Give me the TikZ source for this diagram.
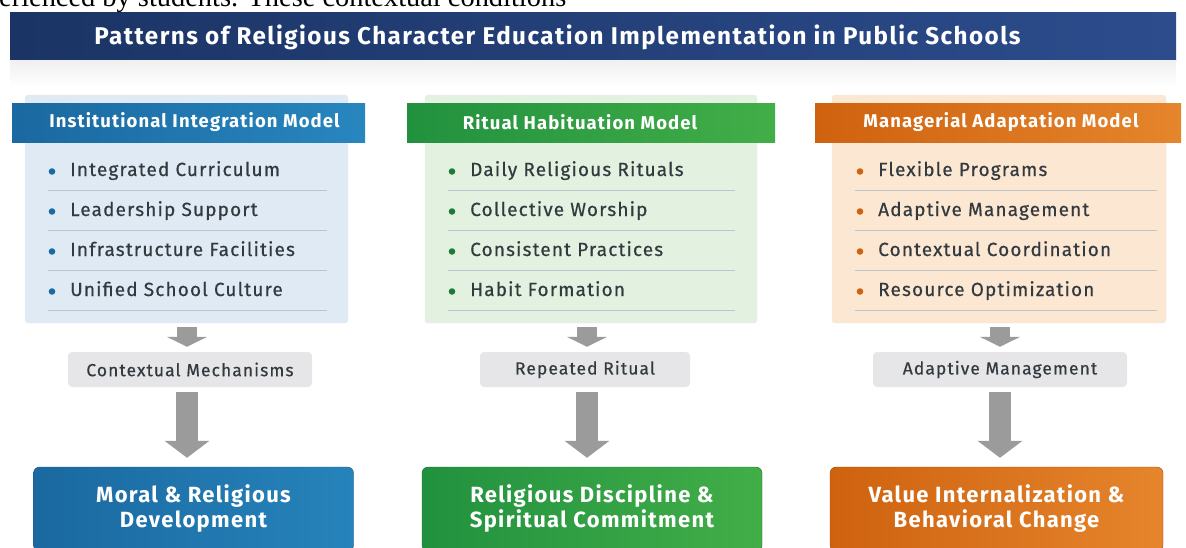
\documentclass[tikz,border=0pt]{standalone}
\usepackage{fontspec}
\setmainfont{Fira Sans}[LetterSpace=6]
\newfontfamily\medio{Fira Sans}[LetterSpace=6, FakeBold=0.5]
\newfontfamily\serifont{Liberation Serif}
\usetikzlibrary{arrows.meta}

\definecolor{tituloA}{HTML}{1B3465}
\definecolor{tituloB}{HTML}{2C4C8C}
\definecolor{azulA}{HTML}{1A69A0}
\definecolor{azulB}{HTML}{2886BE}
\definecolor{azulclaro}{HTML}{DFEAF4}
\definecolor{verdeA}{HTML}{22913F}
\definecolor{verdeB}{HTML}{42AE48}
\definecolor{verdeclaro}{HTML}{E3F1E0}
\definecolor{naranjaA}{HTML}{CF620F}
\definecolor{naranjaB}{HTML}{E5852C}
\definecolor{naranjaclaro}{HTML}{FCE7D3}
\definecolor{grisclaro}{HTML}{E6E6E8}
\definecolor{flecha}{HTML}{9B9B9B}
\definecolor{texto}{HTML}{333A3F}
\definecolor{linea}{HTML}{BCC5CC}

\begin{document}
\begin{tikzpicture}[x=1pt,y=-1pt,
    panel/.style={draw=black!8, rounded corners=3pt, minimum height=228pt},
    cabecera/.style={minimum height=39pt, text=white, font=\bfseries\fontsize{18.5}{22}\selectfont},
    item/.style={anchor=base west, inner sep=0pt, text=texto, font=\medio\fontsize{19}{22}\selectfont},
    separador/.style={draw=linea, line width=0.8pt},
    mecanismo/.style={fill=grisclaro, rounded corners=4pt, minimum height=35pt, text=texto, font=\medio\fontsize{17.5}{20}\selectfont},
    resultado/.style={rounded corners=6pt, minimum width=320pt, minimum height=84pt, align=center, text=white, font=\bfseries\fontsize{22}{25}\selectfont},
    flechita/.style={draw=flecha, line width=20pt, -{Triangle[width=40pt,length=10pt]}, shorten <=4pt, shorten >=5pt},
    flechota/.style={draw=flecha, line width=22pt, -{Triangle[width=44pt,length=17pt]}, shorten <=5pt, shorten >=9pt}]
    \useasboundingbox (0,0) rectangle (1186,547);

    % Texto del documento (recortado)
    \node[anchor=base west, inner sep=0pt, font=\serifont\fontsize{28.4}{28}\selectfont] (previo) at (-1,6.5) {erienced by students. These contextual conditions};

    % Barra del titulo
    \node[left color=tituloA, right color=tituloB, minimum width=1166pt, minimum height=48pt] (barra) at (593,36) {};
    \shade[top color=black!6, bottom color=white] (barra.south west) rectangle ++(1166,26);
    \node[anchor=base, text=white, font=\bfseries\fontsize{24.2}{26}\selectfont] (titulo) at (557.5,44) {Patterns of Religious Character Education Implementation in Public Schools};

    % Paneles
    \node[panel, fill=azulclaro, minimum width=323pt] (panelA) at (186.5,209) {};
    \node[panel, fill=verdeclaro, minimum width=332pt] (panelB) at (591,209) {};
    \node[panel, fill=naranjaclaro, minimum width=334pt] (panelC) at (999,209) {};

    % Cabeceras
    \node[cabecera, left color=azulA, right color=azulB, minimum width=353pt] (cabA) at (188.5,122.5) {\hspace{12pt}Institutional Integration Model};
    \node[cabecera, left color=verdeA, right color=verdeB, minimum width=368pt] (cabB) at (591,122.5) {\hspace{-22pt}Ritual Habituation Model};
    \node[cabecera, left color=naranjaA, right color=naranjaB, minimum width=366pt] (cabC) at (998,122.5) {\hspace{6pt}Managerial Adaptation Model};

    % Elementos de cada modelo
    \foreach \t [count=\i] in {Integrated Curriculum, Leadership Support, Infrastructure Facilities, Unified School Culture}{
        \fill[azulA] (52,131.5+40*\i) circle[radius=3.3pt];
        \node[item] (a\i) at (70,136+40*\i) {\t};
        \draw[separador] (48,150+40*\i) -- (327,150+40*\i);
    }
    \foreach \t [count=\i] in {Daily Religious Rituals, Collective Worship, Consistent Practices, Habit Formation}{
        \fill[verdeA!85!black] (452,131.5+40*\i) circle[radius=3.3pt];
        \node[item] (b\i) at (470,136+40*\i) {\t};
        \draw[separador] (448,150+40*\i) -- (735,150+40*\i);
    }
    \foreach \t [count=\i] in {Flexible Programs, Adaptive Management, Contextual Coordination, Resource Optimization}{
        \fill[naranjaA] (860,131.5+40*\i) circle[radius=3.3pt];
        \node[item] (c\i) at (878,136+40*\i) {\t};
        \draw[separador] (855,150+40*\i) -- (1157,150+40*\i);
    }

    % Mecanismos
    \node[mecanismo, minimum width=244pt] (mecA) at (190,369.5) {Contextual Mechanisms};
    \node[mecanismo, minimum width=210pt] (mecB) at (585,369.5) {Repeated Ritual};
    \node[mecanismo, minimum width=254pt] (mecC) at (1000,369.5) {Adaptive Management};

    % Resultados
    \node[resultado, left color=azulA, right color=azulB!90!azulA, draw=azulA!80!black] (resA) at (193.5,509) {Moral \& Religious\\Development};
    \node[resultado, left color=verdeA, right color=verdeB, draw=verdeA!75!black, minimum width=340pt] (resB) at (592,509) {Religious Discipline \&\\Spiritual Commitment};
    \node[resultado, left color=naranjaA, right color=naranjaB, draw=naranjaA!75!black, minimum width=333pt] (resC) at (996.5,509) {Value Internalization \&\\Behavioral Change};

    % Flechas
    \draw[flechita] (panelA.south -| 187,0) -- (mecA.north -| 187,0);
    \draw[flechita] (panelB.south -| 587,0) -- (mecB.north -| 587,0);
    \draw[flechita] (panelC.south -| 1000,0) -- (mecC.north -| 1000,0);
    \draw[flechota] (mecA.south -| 187,0) -- (resA.north -| 187,0);
    \draw[flechota] (mecB.south -| 587,0) -- (resB.north -| 587,0);
    \draw[flechota] (mecC.south -| 1000,0) -- (resC.north -| 1000,0);

\end{tikzpicture}
\end{document}
